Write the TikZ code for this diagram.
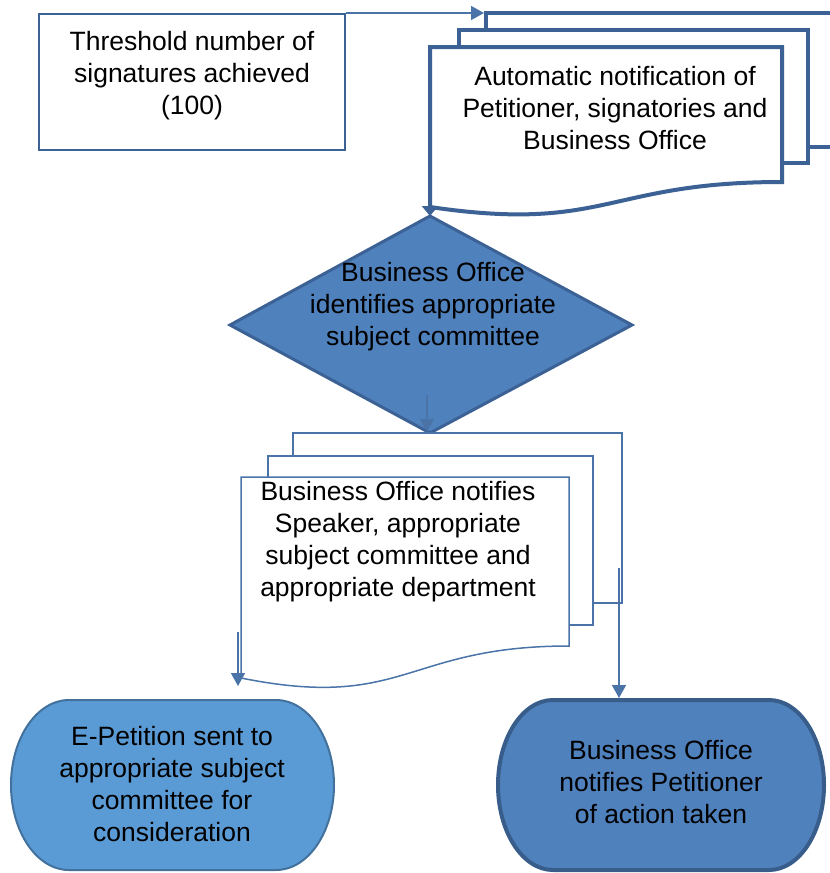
\documentclass[tikz,border=0pt]{standalone}
\usepackage{fontspec}
\setmainfont{Liberation Sans}
\usetikzlibrary{arrows.meta}
\definecolor{dline}{HTML}{3B6195}
\definecolor{tline}{HTML}{4A74A8}
\definecolor{dfill}{HTML}{4F81BD}
\definecolor{lfill}{HTML}{5B9BD5}
\definecolor{lline}{HTML}{41719C}
\definecolor{rline}{HTML}{385D8A}
\begin{document}
\begin{tikzpicture}[x=1pt,y=-1pt,
  txt/.style={align=center, font=\fontsize{26.5}{32}\selectfont, inner sep=0pt, text=black},
  thinbox/.style={draw=tline, line width=1.5pt, fill=white},
  thickdoc/.style={draw=dline, line width=4pt, fill=white, line join=miter},
  conn/.style={draw=tline, line width=1.5pt, -{Triangle[length=13pt,width=14pt]}},
]
\useasboundingbox (0,0) rectangle (830,873);
\clip (0,0) rectangle (830,873);

% threshold box
\node[thinbox, draw=dline, line width=2pt, minimum width=306pt, minimum height=136pt, inner sep=0pt] (thr) at (192,82) {};
\node[txt] (thrtxt) at (192,76) {Threshold number of\\signatures achieved\\(100)};

% top multi-document
\coordinate (tbackTL) at (486,13);
\draw[thickdoc] (tbackTL) rectangle (850,147);
\draw[thickdoc] (459,30) rectangle (808,163);
\coordinate (tfrontBL) at (430,207);
\draw[thickdoc] (tfrontBL) -- (430,47) -- (782,47) -- (782,182)
  .. controls (606,182) and (606,233) .. (tfrontBL) -- cycle;
\node[txt] (toptxt) at (615,108) {Automatic notification of\\Petitioner, signatories and\\Business Office};

\draw[conn] (thr.north east) -- (484,13);

% diamond
\coordinate (dtop) at (430,216);
\coordinate (dright) at (632,325);
\coordinate (dbot) at (430,433);
\coordinate (dleft) at (230,325);
\draw[fill=dfill, draw=dline, line width=3pt, line join=miter] (dtop) -- (dright) -- (dbot) -- (dleft) -- cycle;
\node[txt] (dtxt) at (433,307) {Business Office\\identifies appropriate\\subject committee};
\draw[draw=dline, line width=3pt, -{Triangle[length=10pt,width=16pt]}] (tfrontBL) -- (dtop);

% bottom multi-document
\draw[thinbox] (293,433) rectangle (622,603);
\draw[thinbox] (268,456) rectangle (593,625);
\coordinate (bfrontBL) at (241,678);
\draw[thinbox] (bfrontBL) -- (241,477) -- (569,477) -- (569,646)
  .. controls (405,646) and (405,711) .. (bfrontBL) -- cycle;
\node[txt] (btxt) at (398,542) {Business Office notifies\\Speaker, appropriate\\subject committee and\\appropriate department};

\coordinate (din) at (427,395);
\draw[conn] (din) -- (427,432);

% terminators
\draw[fill=lfill, draw=lline, line width=2pt] (69,700) -- (276,700)
  arc[start angle=90, end angle=-90, x radius=58pt, y radius=85pt] -- (69,870)
  arc[start angle=270, end angle=90, x radius=58pt, y radius=85pt] -- cycle;
\node[txt] (ltxt) at (172,784) {E-Petition sent to\\appropriate subject\\committee for\\consideration};
\coordinate (ltop) at (238,686);

\draw[fill=dfill, draw=rline, line width=4pt] (553,700) -- (769,700)
  arc[start angle=90, end angle=-90, x radius=55pt, y radius=85pt] -- (553,870)
  arc[start angle=270, end angle=90, x radius=55pt, y radius=85pt] -- cycle;
\node[txt] (rtxt) at (661,782) {Business Office\\notifies Petitioner\\of action taken};
\coordinate (rtop) at (619,698);

\coordinate (lstart) at (238,632);
\coordinate (rstart) at (619,568);
\draw[conn] (lstart) -- (ltop);
\draw[conn] (rstart) -- (rtop);
\end{tikzpicture}
\end{document}
